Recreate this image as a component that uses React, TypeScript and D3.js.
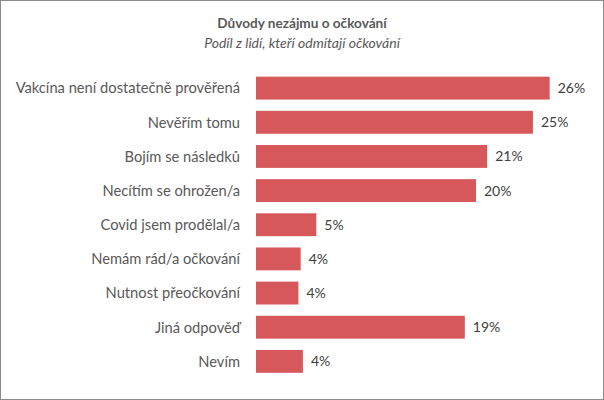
import React, { useEffect, useRef } from 'react';
import * as d3 from 'd3';

const categories = [
  'Vakcína není dostatečně prověřená',
  'Nevěřím tomu',
  'Bojím se následků',
  'Necítím se ohrožen/a',
  'Covid jsem prodělal/a',
  'Nemám rád/a očkování',
  'Nutnost přeočkování',
  'Jiná odpověď',
  'Nevím',
];
const values = [26.3, 24.8, 20.7, 19.7, 5.4, 4.0, 3.8, 18.7, 4.2];
const title = 'Důvody nezájmu o očkování';
const subtitle = 'Podíl z lidí, kteří odmítají očkování';

const App: React.FC = () => {
  const svgRef = useRef<SVGSVGElement>(null);

  useEffect(() => {
    if (!svgRef.current) return;
    const width = 604;
    const height = 400;
    const font = "Lato, 'Open Sans', sans-serif";
    const textColor = '#595959';

    const svg = d3.select(svgRef.current);
    svg.selectAll('*').remove();

    svg.append('rect')
      .attr('x', 0.5).attr('y', 0.5)
      .attr('width', width - 1).attr('height', height - 1)
      .attr('fill', '#fff')
      .attr('stroke', '#8c8c8c');

    svg.append('text')
      .attr('x', width / 2).attr('y', 28)
      .attr('text-anchor', 'middle')
      .attr('font-family', font)
      .attr('font-size', 13.6)
      .attr('font-weight', 'bold')
      .attr('fill', textColor)
      .text(title);

    svg.append('text')
      .attr('x', width / 2).attr('y', 48)
      .attr('text-anchor', 'middle')
      .attr('font-family', font)
      .attr('font-size', 14)
      .attr('font-style', 'italic')
      .attr('fill', textColor)
      .text(subtitle);

    const x = d3.scaleLinear().domain([0, 30]).range([256, 591]);
    const y = d3.scaleBand<string>()
      .domain(categories)
      .range([65.4, 384.1])
      .padding(0.33);

    const rows = svg.append('g')
      .selectAll('g')
      .data(categories.map((c, i) => ({ c, v: values[i] })))
      .join('g');

    rows.append('rect')
      .attr('x', x(0))
      .attr('y', d => y(d.c)!)
      .attr('width', d => x(d.v) - x(0))
      .attr('height', y.bandwidth())
      .attr('fill', '#d6585b');

    rows.append('text')
      .attr('x', 240)
      .attr('y', d => y(d.c)! + y.bandwidth() / 2)
      .attr('dy', '0.36em')
      .attr('text-anchor', 'end')
      .attr('font-family', font)
      .attr('font-size', 14.7)
      .attr('fill', textColor)
      .text(d => d.c);

    rows.append('text')
      .attr('x', d => x(d.v) + 8)
      .attr('y', d => y(d.c)! + y.bandwidth() / 2)
      .attr('dy', '0.36em')
      .attr('font-family', font)
      .attr('font-size', 14)
      .attr('fill', '#404040')
      .text(d => `${Math.round(d.v)}%`);
  }, []);

  return (
    <svg
      ref={svgRef}
      width={604}
      height={400}
      style={{ position: 'fixed', left: 0, top: 0 }}
    />
  );
};

export default App;
